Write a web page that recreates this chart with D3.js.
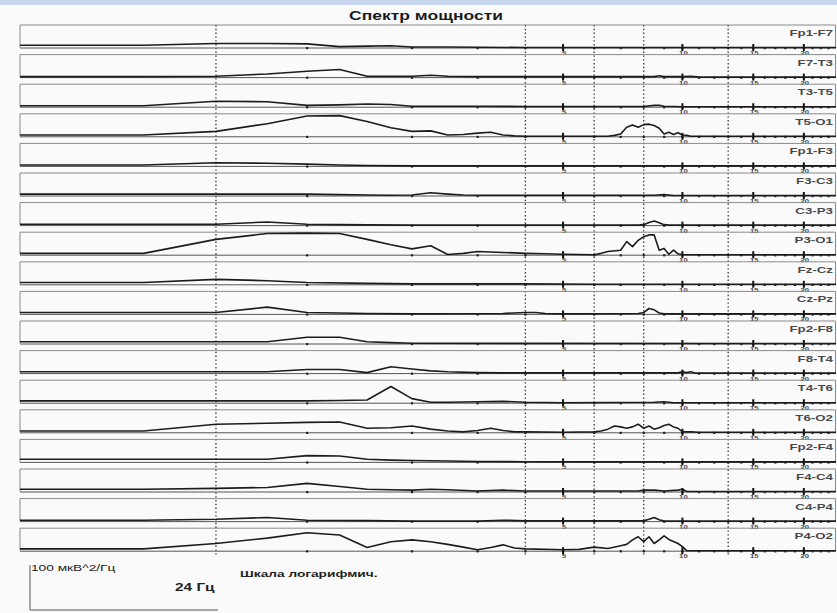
<!DOCTYPE html>
<html>
<head>
<meta charset="utf-8">
<script src="https://cdn.jsdelivr.net/npm/d3@7/dist/d3.min.js"></script>
<style>
  html, body { margin: 0; padding: 0; background: #fafafa; }
  svg { display: block; }
</style>
</head>
<body>
<svg id="chart" width="837" height="613"></svg>
<script>
// EEG montage channels, top to bottom
const channels = [
  "Fp1-F7", "F7-T3", "T3-T5", "T5-O1",
  "Fp1-F3", "F3-C3", "C3-P3", "P3-O1",
  "Fz-Cz", "Cz-Pz",
  "Fp2-F8", "F8-T4", "T4-T6", "T6-O2",
  "Fp2-F4", "F4-C4", "C4-P4", "P4-O2"
];

// Power spectra, [frequency Hz, power mkV^2/Hz], one list per channel
const spectra = [
  [[0,5],[0.25,5],[0.5,9],[0.75,9],[1,8],[1.25,2],[1.5,3],[1.75,4],[2,1],[2.5,1],[3,0.5],[4,0],[24,0]],
  [[0,1],[0.25,1],[0.5,2],[0.75,7],[1,13],[1.25,17],[1.5,2],[1.75,2],[2,2],[2.25,4],[2.5,2],[3,1],[4,1],[8.5,1],[8.75,3],[9,1],[10,1],[10.5,2],[11,0],[24,0]],
  [[0,2],[0.25,2],[0.5,12],[0.75,11],[1,3],[1.25,4],[1.5,6],[1.75,5],[2,1],[3,1],[4,0.5],[8,0.5],[8.5,3],[8.75,3],[9,1],[10,0],[24,0]],
  [[0,3],[0.25,3],[0.5,11],[0.75,28],[1,45],[1.25,46],[1.5,33],[1.75,19],[2,11],[2.25,12],[2.5,3],[2.75,4],[3,7],[3.25,9],[3.5,3],[3.75,1],[4,0],[6.5,0],[6.75,2],[7,5],[7.25,20],[7.5,25],[7.75,20],[8,26],[8.25,27],[8.5,24],[8.75,18],[9,5],[9.25,9],[9.5,4],[9.75,8],[10,3],[10.25,2],[10.5,0],[24,0]],
  [[0,2],[0.25,2],[0.5,7],[0.75,6],[1,4],[1.25,2],[1.5,1],[2,0],[24,0]],
  [[0,3],[0.25,3],[0.5,3],[0.75,3],[1,3],[1.25,2],[1.5,1],[1.75,0.5],[2,1],[2.25,6],[2.5,3],[2.75,1],[3,0.5],[8.5,0.5],[9,2],[9.5,0],[24,0]],
  [[0,2],[0.25,2],[0.5,2],[0.75,7],[1,2],[1.25,1],[1.5,0.5],[2,0],[7.75,0],[8,1],[8.25,6],[8.5,9],[8.75,5],[9,1],[9.25,0],[24,0]],
  [[0,3],[0.25,3],[0.5,34],[0.75,47],[1,48],[1.25,47],[1.5,34],[1.75,22],[2,13],[2.25,20],[2.5,0.5],[2.75,3],[3,7],[3.25,6],[3.5,5],[3.75,4],[4,3],[4.5,2],[5,1],[6,0],[6.25,3],[6.5,7],[7,10],[7.25,29],[7.5,18],[7.75,32],[8,40],[8.25,44],[8.5,44],[8.75,10],[9,14],[9.25,1],[9.5,10],[9.75,2],[10,0],[24,0]],
  [[0,4],[0.25,4],[0.5,11],[0.75,8],[1,4],[1.5,2],[2,1],[4,1],[6,0],[24,0]],
  [[0,3],[0.25,3],[0.5,3],[0.75,15],[1,3],[1.25,2],[1.5,1],[2,0],[3.5,1],[4,3],[4.25,3],[4.5,1],[5,0],[7.75,1],[8,3],[8.25,12],[8.5,9],[8.75,2],[9,0],[24,0]],
  [[0,4],[0.25,4],[0.5,4],[0.75,4],[1,14],[1.25,14],[1.5,4],[1.75,2],[2,0.5],[24,0]],
  [[0,3],[0.25,3],[0.5,3],[0.75,3],[1,8],[1.25,8],[1.5,1],[1.75,14],[2,9],[2.25,5],[2.5,3],[3,1],[3.5,0.5],[9.75,0.5],[10,3],[10.25,1],[10.5,3],[10.75,0],[24,0]],
  [[0,4],[0.25,4],[0.5,4],[0.75,4],[1,4],[1.25,5],[1.5,6],[1.75,36],[2,9],[2.25,1],[2.5,1],[3,2],[3.5,3],[4,1],[5,0],[8.5,1],[9,2],[9.5,0],[24,0]],
  [[0,3],[0.25,3],[0.5,18],[0.75,20],[1,22],[1.25,23],[1.5,9],[1.75,10],[2,14],[2.25,7],[2.5,3],[2.75,1],[3,4],[3.25,9],[3.5,4],[3.75,1],[4,1],[5,0],[6,1],[6.25,3],[6.5,7],[6.75,14],[7,12],[7.25,9],[7.5,12],[7.75,18],[8,9],[8.25,14],[8.5,7],[8.75,10],[9,15],[9.25,18],[9.5,12],[9.75,9],[10,1],[10.5,1],[11,0],[24,0]],
  [[0,6],[0.25,6],[0.5,6],[0.75,6],[1,14],[1.25,13],[1.5,6],[1.75,4],[2,3],[2.5,2],[3,1],[4,0.5],[6,0],[24,0]],
  [[0,5],[0.25,5],[0.5,7],[0.75,9],[1,18],[1.25,11],[1.5,5],[1.75,4],[2,3],[2.25,5],[2.5,4],[3,1],[3.5,3],[4,1],[7.75,1],[8,3],[8.5,3],[9,1],[9.75,3],[10,5],[10.25,0],[24,0]],
  [[0,2],[0.25,2],[0.5,4],[0.75,8],[1,2],[1.5,1],[2,0],[3,0],[3.5,2],[4,0.5],[8,0.5],[8.25,4],[8.5,8],[8.75,3],[9,0],[24,0]],
  [[0,4],[0.25,4],[0.5,16],[0.75,28],[1,40],[1.25,35],[1.5,7],[1.75,20],[2,24],[2.25,20],[2.5,14],[2.75,8],[3,2],[3.25,7],[3.5,13],[3.75,6],[4,4],[5,2],[5.5,3],[6,8],[6.5,5],[7,11],[7.25,14],[7.5,24],[7.75,31],[8,20],[8.25,31],[8.5,16],[8.75,24],[9,33],[9.25,25],[9.75,16],[10,9],[10.25,0],[24,0]]
];

// Frequency axis markers
const bandEdges = [0.5, 4, 6, 8, 13];
const tickFreqs = [1,2,3,4,5,6,7,8,9,10,11,12,13,14,15,16,17,18,19,20,21,22,23];
const labeledTicks = [5, 10, 15, 20];

const titleText = "Спектр мощности";
const scaleText = "100 мкВ^2/Гц";
const freqSpanText = "24 Гц";
const logNote = "Шкала логарифмич.";

// ---- layout ----
const W = 837, H = 613;
const left = 20, right = 836;
const firstTop = 25, rowPitch = 29.6, boxH = 22.5;
const powerMax = 50;           // box height in mkV^2/Hz (100 mkV^2/Hz = 45 px)
const stretch = 1.4;           // printed text is horizontally widened

const svg = d3.select("#chart");

svg.append("rect").attr("width", W).attr("height", H).attr("fill", "#fafafa");
svg.append("rect").attr("width", W).attr("height", 5).attr("fill", "#c7d5ee");

// log frequency scale with 0.25 Hz offset so 0 Hz sits at the left edge
const xLog = d3.scaleLog().domain([0.25, 24.25]).range([left, right]);
const fx = f => xLog(f + 0.25);

const rowTop = i => firstTop + i * rowPitch;
const rowAxis = i => rowTop(i) + boxH;

function stretchedText(g, x, y, str, opts) {
  return g.append("text")
    .attr("transform", `translate(${x},${y}) scale(${stretch},1)`)
    .attr("text-anchor", opts.anchor || "start")
    .attr("font-family", "Liberation Sans, Arial, sans-serif")
    .attr("font-size", opts.size)
    .attr("font-weight", opts.weight || "normal")
    .attr("fill", opts.fill || "#222")
    .text(str);
}

// title
stretchedText(svg, 426, 20, titleText, {anchor: "middle", size: 12.5, weight: "bold", fill: "#1a1a1a"});

// band edge dotted verticals
const lastAxis = rowAxis(channels.length - 1);
svg.append("g").selectAll("line").data(bandEdges).join("line")
  .attr("x1", d => fx(d)).attr("x2", d => fx(d))
  .attr("y1", firstTop).attr("y2", lastAxis + 6)
  .attr("stroke", "#333").attr("stroke-width", 1.3)
  .attr("stroke-dasharray", "1.4,2.4");

const rows = svg.append("g").selectAll("g.row").data(channels).join("g")
  .attr("class", "row");

rows.each(function(name, i) {
  const g = d3.select(this);
  const top = rowTop(i), axisY = rowAxis(i);
  const y = d3.scaleLinear().domain([0, powerMax]).range([axisY, top]).clamp(true);

  // frame: top edge, left and right sides
  g.append("path")
    .attr("d", `M${left},${axisY}V${top}H${right - 0.5}V${axisY}`)
    .attr("fill", "none").attr("stroke", "#8a8a8a").attr("stroke-width", 1);

  // frequency axis line
  g.append("line")
    .attr("x1", left).attr("x2", right)
    .attr("y1", axisY + 0.5).attr("y2", axisY + 0.5)
    .attr("stroke", "#555").attr("stroke-width", 1);

  // integer Hz dots
  g.append("g").selectAll("rect").data(tickFreqs).join("rect")
    .attr("x", d => fx(d) - 1).attr("y", axisY - 0.5)
    .attr("width", 2.2).attr("height", 2.2).attr("fill", "#222");

  // major ticks with labels
  g.append("g").selectAll("line").data(labeledTicks).join("line")
    .attr("x1", d => fx(d)).attr("x2", d => fx(d))
    .attr("y1", axisY - 3.5).attr("y2", axisY + 3.5)
    .attr("stroke", "#111").attr("stroke-width", 2);
  labeledTicks.forEach(t => {
    stretchedText(g, fx(t) + 1, axisY + 7.5, String(t), {anchor: "middle", size: 5.5, weight: "bold", fill: "#444"});
  });

  // spectrum curve
  g.append("path")
    .datum(spectra[i])
    .attr("fill", "none")
    .attr("stroke", "#1c1c1c")
    .attr("stroke-width", 1.6)
    .attr("stroke-linejoin", "round")
    .attr("d", d3.line().x(d => fx(d[0])).y(d => y(d[1])));

  // channel label
  stretchedText(g, 833, top + 11, name, {anchor: "end", size: 9.5, weight: "bold", fill: "#4a4a4a"});
});

// calibration marker
const cal = svg.append("g");
cal.append("path")
  .attr("d", "M30,565V610H218")
  .attr("fill", "none").attr("stroke", "#555").attr("stroke-width", 1);
stretchedText(cal, 31, 571, scaleText, {size: 9.8, fill: "#222"});
stretchedText(cal, 175, 591, freqSpanText, {size: 11, weight: "bold", fill: "#222"});
stretchedText(cal, 240, 577, logNote, {size: 9.8, weight: "bold", fill: "#222"});
</script>
</body>
</html>
